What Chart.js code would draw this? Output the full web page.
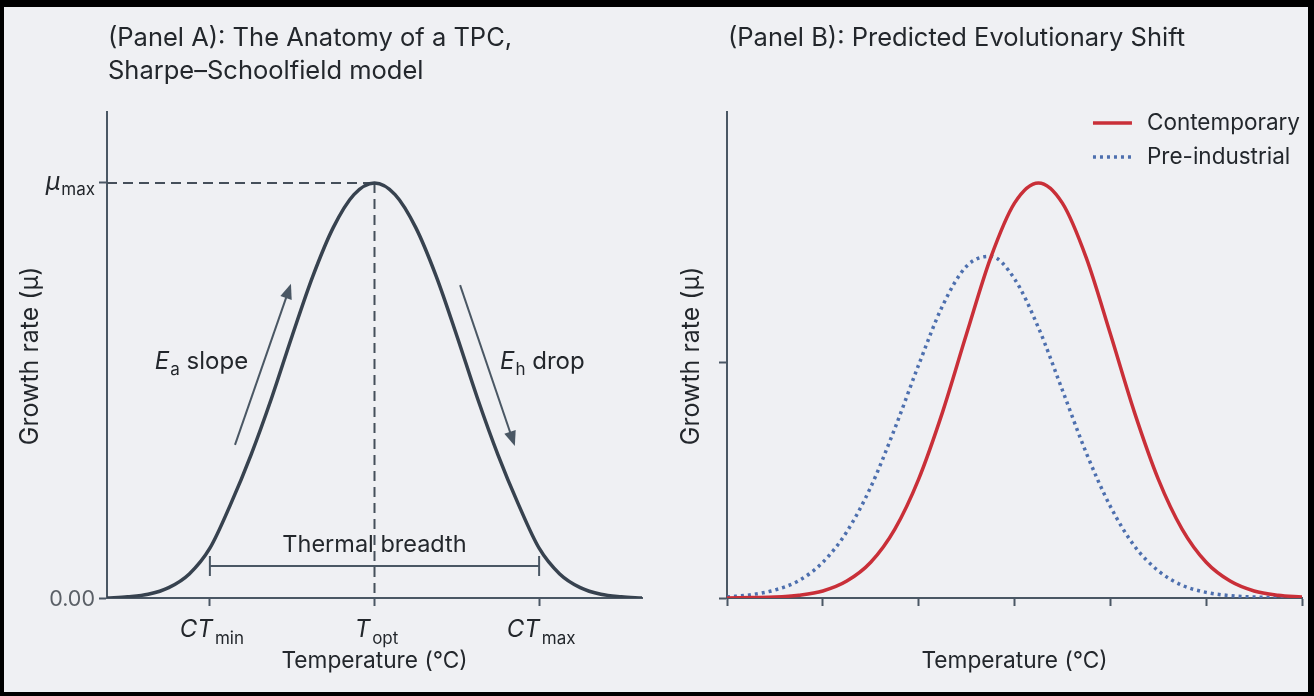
<!DOCTYPE html>
<html>
<head>
<meta charset="utf-8">
<script src="https://cdn.jsdelivr.net/npm/chart.js@4.4.4/dist/chart.umd.min.js"></script>
<style>
html, body { margin: 0; padding: 0; width: 1314px; height: 696px; overflow: hidden; background: #000; }
#frame { position: absolute; left: 4px; top: 7px; width: 1304px; height: 685px; background: #eff0f3; }
.box { position: absolute; top: 0; height: 696px; }
#boxA { left: 0; width: 660px; }
#boxB { left: 660px; width: 654px; }
</style>
</head>
<body>
<div id="frame"></div>
<div class="box" id="boxA"><canvas id="chartA"></canvas></div>
<div class="box" id="boxB"><canvas id="chartB"></canvas></div>
<script>
// Two-panel thermal performance curve figure. Panel A annotates one TPC, panel B
// compares contemporary vs pre-industrial curves. Subscripted labels and the
// annotations are drawn by small inline plugins on top of the library scales.

// ---- Panel A data (growth as a fraction of mu_max) ----
const tempA = [0, 0.5, 1, 1.5, 2, 2.5, 3, 3.5, 4, 4.5, 5, 5.5, 6, 6.5, 7, 7.5, 8, 8.5, 9, 9.5, 10, 10.5, 11, 11.5, 12, 12.5, 13];
const growthA = [0.000, 0.003, 0.009, 0.025, 0.058, 0.120, 0.225, 0.345, 0.482, 0.632, 0.775, 0.893, 0.972, 1.000,
    0.972, 0.893, 0.775, 0.632, 0.482, 0.345, 0.225, 0.120, 0.058, 0.025, 0.009, 0.003, 0.000];
const markerTempsA = [2.5, 6.5, 10.5];
const markerLabelsA = [['CT', 'min'], ['T', 'opt'], ['CT', 'max']];
const yTicksA = [0, 1];
const yLabelsA = [['0.00', ''], ['\u03bc', 'max']];
const breadthY = 0.077;
const slopeArrow = [[3.11, 0.369], [4.47, 0.757]];
const dropArrow = [[8.58, 0.754], [9.91, 0.366]];

// ---- Panel B data ----
const tempB = [0, 0.25, 0.5, 0.75, 1, 1.25, 1.5, 1.75, 2, 2.25, 2.5, 2.75, 3, 3.25, 3.5, 3.75, 4, 4.25, 4.5, 4.75, 5, 5.25, 5.5, 5.75, 6];
const contemporary = [0.000, 0.001, 0.002, 0.006, 0.015, 0.036, 0.076, 0.146, 0.253, 0.396, 0.562, 0.723, 0.840, 0.883,
    0.840, 0.723, 0.562, 0.396, 0.253, 0.146, 0.076, 0.036, 0.015, 0.006, 0.002];
const preIndustrial = [0.002, 0.007, 0.017, 0.037, 0.076, 0.141, 0.236, 0.360, 0.496, 0.622, 0.706, 0.727, 0.679, 0.575,
    0.442, 0.308, 0.195, 0.111, 0.058, 0.027, 0.012, 0.005, 0.002, 0.001, 0.000];
const xTicksB = [0, 1, 2, 3, 4, 5, 6];
const yTicksB = [0, 0.5];
const seriesNamesB = ['Contemporary', 'Pre-industrial'];

const FONT = 'Inter, "Noto Sans", "DejaVu Sans", sans-serif';
const INK = '#37424f';
const AXIS = '#4a5764';
const TEXT = '#23272c';
const RED = '#c92f38';
const BLUE = '#4d6fae';

// draws a run of [text, font, dy, gap] pieces, aligned as a whole
function richText(ctx, parts, x, y, align) {
    let w = 0;
    for (const p of parts) { ctx.font = p[1]; w += ctx.measureText(p[0]).width + (p[3] || 0); }
    let cx = align === 'center' ? x - w / 2 : align === 'right' ? x - w : x;
    for (const p of parts) {
        ctx.font = p[1];
        ctx.fillText(p[0], cx, y + (p[2] || 0));
        cx += ctx.measureText(p[0]).width + (p[3] || 0);
    }
}

function arrow(ctx, x1, y1, x2, y2) {
    const a = Math.atan2(y2 - y1, x2 - x1);
    const hl = 15, hw = 6;
    ctx.beginPath();
    ctx.moveTo(x1, y1);
    ctx.lineTo(x2 - Math.cos(a) * hl * 0.8, y2 - Math.sin(a) * hl * 0.8);
    ctx.stroke();
    ctx.beginPath();
    ctx.moveTo(x2, y2);
    ctx.lineTo(x2 - Math.cos(a) * hl - Math.sin(a) * hw, y2 - Math.sin(a) * hl + Math.cos(a) * hw);
    ctx.lineTo(x2 - Math.cos(a) * hl + Math.sin(a) * hw, y2 - Math.sin(a) * hl - Math.cos(a) * hw);
    ctx.closePath();
    ctx.fill();
}

function drawFrameText(ctx, chart, titleLines, yTitleX) {
    const { chartArea } = chart;
    ctx.fillStyle = TEXT;
    ctx.textBaseline = 'alphabetic';
    ctx.textAlign = 'left';
    ctx.font = `25.5px ${FONT}`;
    titleLines.forEach((t, i) => ctx.fillText(t, chartArea.left + 1, 46 + i * 33));
    // axis titles
    ctx.textBaseline = 'middle';
    ctx.textAlign = 'center';
    ctx.font = `22.7px ${FONT}`;
    ctx.fillText('Temperature (\u00b0C)', (chartArea.left + chartArea.right) / 2, 661);
    ctx.save();
    ctx.translate(yTitleX, 356);
    ctx.rotate(-Math.PI / 2);
    ctx.font = `25px ${FONT}`;
    ctx.fillText('Growth rate (\u03bc)', 0, 0);
    ctx.restore();
}

const panelAPlugin = {
    id: 'panelA',
    beforeDatasetsDraw(chart) {
        const { ctx, scales: { x, y } } = chart;
        const px = x.getPixelForValue(markerTempsA[1]);
        const py = y.getPixelForValue(1);
        ctx.save();
        ctx.strokeStyle = '#454f5a';
        ctx.lineWidth = 2;
        ctx.setLineDash([10, 6]);
        ctx.beginPath();
        ctx.moveTo(x.left, py);
        ctx.lineTo(px, py);
        ctx.moveTo(px, py);
        ctx.lineTo(px, y.getPixelForValue(0));
        ctx.stroke();
        ctx.setLineDash([]);
        // thermal breadth bracket
        const bx1 = x.getPixelForValue(markerTempsA[0]);
        const bx2 = x.getPixelForValue(markerTempsA[2]);
        const by = y.getPixelForValue(breadthY);
        ctx.strokeStyle = AXIS;
        ctx.beginPath();
        ctx.moveTo(bx1, by); ctx.lineTo(bx2, by);
        ctx.moveTo(bx1, by - 10); ctx.lineTo(bx1, by + 10);
        ctx.moveTo(bx2, by - 10); ctx.lineTo(bx2, by + 10);
        ctx.stroke();
        ctx.restore();
    },
    afterDatasetsDraw(chart) {
        const { ctx, scales: { x, y } } = chart;
        ctx.save();
        ctx.strokeStyle = AXIS;
        ctx.fillStyle = AXIS;
        ctx.lineWidth = 2;
        for (const ar of [slopeArrow, dropArrow]) {
            arrow(ctx, x.getPixelForValue(ar[0][0]), y.getPixelForValue(ar[0][1]),
                x.getPixelForValue(ar[1][0]), y.getPixelForValue(ar[1][1]));
        }
        ctx.fillStyle = TEXT;
        ctx.textBaseline = 'alphabetic';
        const ly = y.getPixelForValue(0.57) + 8;
        richText(ctx, [['E', `italic 24px ${FONT}`, 0, 1], ['a', `17px ${FONT}`, 6, 0], [' slope', `24px ${FONT}`]],
            x.getPixelForValue(3.43), ly, 'right');
        richText(ctx, [['E', `italic 24px ${FONT}`, 0, 1], ['h', `17px ${FONT}`, 6, 0], [' drop', `24px ${FONT}`]],
            x.getPixelForValue(9.55), ly, 'left');
        ctx.font = `23.5px ${FONT}`;
        ctx.textAlign = 'center';
        ctx.fillText('Thermal breadth', x.getPixelForValue(markerTempsA[1]), y.getPixelForValue(breadthY) - 14);
        ctx.textAlign = 'left';
        // x tick labels with subscripts
        markerTempsA.forEach((v, i) => {
            const [m, s] = markerLabelsA[i];
            richText(ctx, [[m, `italic 24px ${FONT}`, 0, 2], [s, `17px ${FONT}`, 7, 0]], x.getPixelForValue(v) + 2, 637, 'center');
        });
        // y tick labels
        yTicksA.forEach((v, i) => {
            const [m, s] = yLabelsA[i];
            const py = y.getPixelForValue(v) + 7;
            if (s) {
                ctx.fillStyle = TEXT;
                richText(ctx, [[m, `italic 25px ${FONT}`, 0, 1], [s, `17px ${FONT}`, 5, 0]], x.left - 12, py, 'right');
            } else {
                ctx.fillStyle = '#5a5f66';
                richText(ctx, [[m, `21.5px ${FONT}`]], x.left - 12, py + 1, 'right');
            }
        });
        drawFrameText(ctx, chart, ['(Panel A): The Anatomy of a TPC,', 'Sharpe\u2013Schoolfield model'], 30);
        ctx.restore();
    },
};

const panelBPlugin = {
    id: 'panelB',
    afterDatasetsDraw(chart) {
        const { ctx, chartArea } = chart;
        ctx.save();
        ctx.font = `22.5px ${FONT}`;
        const tw = Math.max(...seriesNamesB.map((n) => ctx.measureText(n).width));
        const tx = chartArea.right - tw - 2;
        chart.data.datasets.forEach((ds, i) => {
            const ly = chartArea.top + 11 + i * 34;
            ctx.strokeStyle = ds.borderColor;
            ctx.lineWidth = ds.borderWidth;
            ctx.setLineDash(ds.borderDash || []);
            ctx.beginPath();
            ctx.moveTo(tx - 54, ly);
            ctx.lineTo(tx - 15, ly);
            ctx.stroke();
            ctx.setLineDash([]);
            ctx.fillStyle = TEXT;
            ctx.textBaseline = 'middle';
            ctx.textAlign = 'left';
            ctx.font = `22.5px ${FONT}`;
            ctx.fillText(ds.label, tx, ly);
        });
        drawFrameText(ctx, chart, ['(Panel B): Predicted Evolutionary Shift'], 31);
        ctx.restore();
    },
};

function axisOpts(min, max, ticks, fixSize, isX) {
    return {
        type: 'linear',
        min, max,
        afterBuildTicks(scale) { scale.ticks = ticks.map((v) => ({ value: v })); },
        afterFit(scale) { if (isX) scale.height = fixSize; else scale.width = fixSize; },
        ticks: { callback: () => '', padding: 0 },
        grid: { drawOnChartArea: false, drawTicks: true, tickLength: 8, tickColor: AXIS, tickWidth: 2 },
        border: { color: AXIS, width: 2 },
    };
}

Chart.defaults.animation = false;

new Chart(document.getElementById('chartA'), {
    type: 'line',
    data: {
        datasets: [{
            label: 'TPC',
            data: tempA.map((t, i) => ({ x: t, y: growthA[i] })),
            borderColor: INK, borderWidth: 3.5, pointRadius: 0, fill: false,
            cubicInterpolationMode: 'monotone',
        }],
    },
    options: {
        responsive: true,
        maintainAspectRatio: false,
        layout: { padding: { top: 112, right: 18, left: 0, bottom: 0 } },
        plugins: { legend: { display: false }, tooltip: { enabled: false } },
        scales: {
            x: axisOpts(0, 13, markerTempsA, 98, true),
            y: axisOpts(0, 1.171, yTicksA, 107, false),
        },
    },
    plugins: [panelAPlugin],
});

new Chart(document.getElementById('chartB'), {
    type: 'line',
    data: {
        datasets: [
            { label: seriesNamesB[0], data: tempB.map((t, i) => ({ x: t, y: contemporary[i] })), borderColor: RED, borderWidth: 3.5, pointRadius: 0, fill: false, cubicInterpolationMode: 'monotone' },
            { label: seriesNamesB[1], data: tempB.map((t, i) => ({ x: t, y: preIndustrial[i] })), borderColor: BLUE, borderWidth: 3.5, borderDash: [3, 4], pointRadius: 0, fill: false, cubicInterpolationMode: 'monotone' },
        ],
    },
    options: {
        responsive: true,
        maintainAspectRatio: false,
        layout: { padding: { top: 112, right: 12, left: 0, bottom: 0 } },
        plugins: { legend: { display: false }, tooltip: { enabled: false } },
        scales: {
            x: axisOpts(0, 6, xTicksB, 98, true),
            y: axisOpts(0, 1.034, yTicksB, 67, false),
        },
    },
    plugins: [panelBPlugin],
});
</script>
</body>
</html>
